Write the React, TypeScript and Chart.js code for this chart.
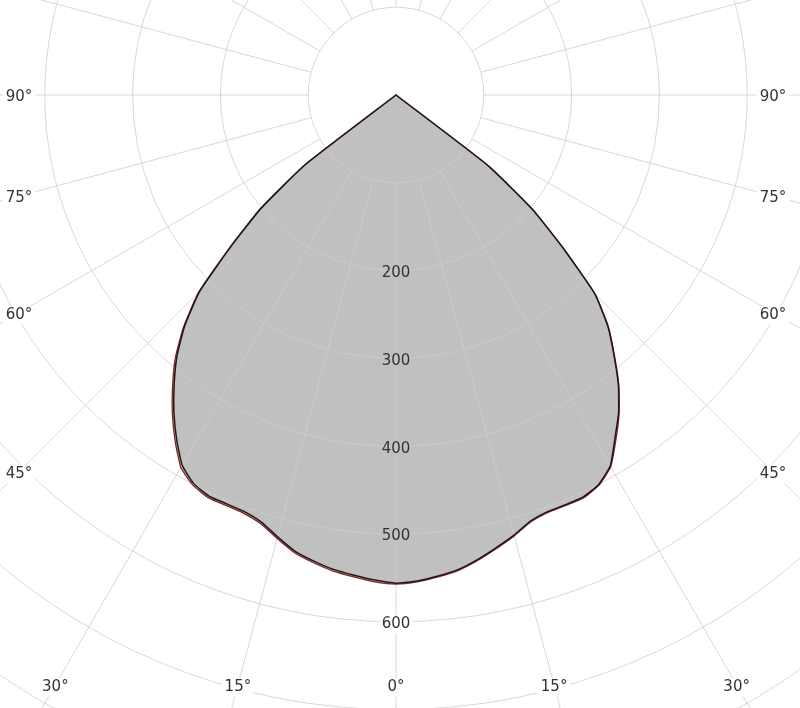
import React, { useEffect, useRef } from 'react';
import { Chart, registerables } from 'chart.js';

Chart.register(...registerables);

// Polar angle categories (degrees from nadir, clockwise on screen), 2.5° step
const ANGLE_STEP = 2.5;
const angleCategories: number[] = Array.from({ length: 360 / ANGLE_STEP }, (_, i) => i * ANGLE_STEP);

// Luminous intensity (cd/klm) for the half-planes, 0°..180° in 2.5° steps
const blackLeft = [
  556, 553, 549, 545, 539, 532, 521, 510, 505, 504, 504, 499, 487, 465, 441, 415, 388, 356, 316, 254, 200, 130,
  0, 0, 0, 0, 0, 0, 0, 0, 0, 0, 0, 0, 0, 0, 0, 0, 0, 0, 0, 0, 0, 0, 0, 0, 0, 0, 0, 0, 0, 0,
  0, 0, 0, 0, 0, 0, 0, 0, 0, 0, 0, 0, 0, 0, 0, 0, 0, 0, 0, 0, 0, 0, 0, 0, 0, 0, 0, 0, 0, 0, 0,
];
const blackRight = [
  556, 554, 550, 545, 537, 528, 519, 509, 505, 505, 505, 500, 488, 464, 442, 416, 386, 357, 320, 258, 203, 132,
  0, 0, 0, 0, 0, 0, 0, 0, 0, 0, 0, 0, 0, 0, 0, 0, 0, 0, 0, 0, 0, 0, 0, 0, 0, 0, 0, 0, 0, 0,
  0, 0, 0, 0, 0, 0, 0, 0, 0, 0, 0, 0, 0, 0, 0, 0, 0, 0, 0, 0, 0, 0, 0, 0, 0, 0, 0, 0, 0, 0, 0,
];
const redLeft = [
  557, 555, 551, 547, 541, 534, 523, 512, 507, 506, 506, 501, 490, 468, 444, 418, 391, 358, 318, 256, 202, 131,
  0, 0, 0, 0, 0, 0, 0, 0, 0, 0, 0, 0, 0, 0, 0, 0, 0, 0, 0, 0, 0, 0, 0, 0, 0, 0, 0, 0, 0, 0,
  0, 0, 0, 0, 0, 0, 0, 0, 0, 0, 0, 0, 0, 0, 0, 0, 0, 0, 0, 0, 0, 0, 0, 0, 0, 0, 0, 0, 0, 0, 0,
];
const redRight = [
  557, 555, 551, 546, 538, 529, 520, 510, 506, 506, 506, 501, 489, 466, 443, 417, 387, 358, 321, 259, 204, 133,
  0, 0, 0, 0, 0, 0, 0, 0, 0, 0, 0, 0, 0, 0, 0, 0, 0, 0, 0, 0, 0, 0, 0, 0, 0, 0, 0, 0, 0, 0,
  0, 0, 0, 0, 0, 0, 0, 0, 0, 0, 0, 0, 0, 0, 0, 0, 0, 0, 0, 0, 0, 0, 0, 0, 0, 0, 0, 0, 0, 0, 0,
];

const ringValues = [100, 200, 300, 400, 500, 600, 700, 800, 900, 1000];
const tickValues = [200, 300, 400, 500, 600];
const angleLabelValues = [0, 15, 30, 45, 60, 75, 90];
const ANGLE_LINE_STEP = 15;

const GRID_COLOR = 'rgba(205,205,205,0.78)';
const TEXT_COLOR = '#333333';
const FONT = '15px "DejaVu Sans", Verdana, sans-serif';
const LABEL_HALF_SPAN = 377;
const LABEL_BOTTOM = 590;
const TEXT_DY = 2.5;

function fullCircle(left: number[], right: number[]): number[] {
  const half = 180 / ANGLE_STEP;
  const n = angleCategories.length;
  return angleCategories.map((_, i) => (i <= half ? left[i] : right[n - i]));
}

const polarDecor = {
  id: 'polarDecor',
  beforeDatasetsDraw(chart: any) {
    const s = chart.scales.r;
    const ctx = chart.ctx;
    ctx.save();
    ctx.strokeStyle = GRID_COLOR;
    ctx.lineWidth = 1;
    for (const v of ringValues) {
      const d = s.getDistanceFromCenterForValue(v);
      ctx.beginPath();
      ctx.arc(s.xCenter, s.yCenter, d, 0, Math.PI * 2);
      ctx.stroke();
    }
    const inner = s.getDistanceFromCenterForValue(ringValues[0]);
    const outer = s.getDistanceFromCenterForValue(ringValues[ringValues.length - 1]);
    angleCategories.forEach((a, i) => {
      if (a % ANGLE_LINE_STEP !== 0) return;
      const p1 = s.getPointPosition(i, inner);
      const p2 = s.getPointPosition(i, outer);
      ctx.beginPath();
      ctx.moveTo(p1.x, p1.y);
      ctx.lineTo(p2.x, p2.y);
      ctx.stroke();
    });
    ctx.restore();
  },
  afterDatasetsDraw(chart: any) {
    const s = chart.scales.r;
    const ctx = chart.ctx;
    ctx.save();
    ctx.font = FONT;
    ctx.textAlign = 'center';
    ctx.textBaseline = 'middle';
    const nadirMax = Math.max(blackLeft[0], blackRight[0], redLeft[0], redRight[0]);
    for (const v of tickValues) {
      const d = s.getDistanceFromCenterForValue(v);
      const p = s.getPointPosition(0, d);
      const label = String(v);
      const w = ctx.measureText(label).width;
      if (v > nadirMax) {
        ctx.fillStyle = '#ffffff';
        ctx.fillRect(p.x - w / 2 - 2, p.y - 9 + TEXT_DY, w + 4, 18);
      }
      ctx.fillStyle = TEXT_COLOR;
      ctx.fillText(label, p.x, p.y + TEXT_DY);
    }
    const outer = s.getDistanceFromCenterForValue(ringValues[ringValues.length - 1]);
    angleCategories.forEach((a, i) => {
      if (a % ANGLE_LINE_STEP !== 0) return;
      const val = a <= 180 ? a : 360 - a;
      if (!angleLabelValues.includes(val)) return;
      const far = s.getPointPosition(i, outer);
      const ux = (far.x - s.xCenter) / outer;
      const uy = (far.y - s.yCenter) / outer;
      let t = Infinity;
      if (Math.abs(ux) > 1e-6) t = Math.min(t, LABEL_HALF_SPAN / Math.abs(ux));
      if (uy > 1e-6) t = Math.min(t, LABEL_BOTTOM / uy);
      const x = s.xCenter + ux * t;
      const y = s.yCenter + uy * t;
      const label = `${val}°`;
      const w = ctx.measureText(label).width;
      ctx.fillStyle = '#ffffff';
      ctx.fillRect(x - w / 2 - 3, y - 9 + TEXT_DY, w + 6, 18);
      ctx.fillStyle = TEXT_COLOR;
      ctx.fillText(label, x, y + TEXT_DY);
    });
    ctx.restore();
  },
};

export default function App() {
  const canvasRef = useRef<HTMLCanvasElement | null>(null);

  useEffect(() => {
    const canvas = canvasRef.current;
    if (!canvas) return;
    const chart = new Chart(canvas, {
      type: 'radar',
      data: {
        labels: angleCategories.map((a) => `${a}°`),
        datasets: [
          {
            label: 'C90-C270',
            data: fullCircle(blackLeft, blackRight),
            borderColor: '#1a1a1a',
            borderWidth: 1.5,
            fill: false,
            pointRadius: 0,
            tension: 0.15,
          },
          {
            label: 'C0-C180',
            data: fullCircle(redLeft, redRight),
            borderColor: '#8e1c24',
            borderWidth: 1.3,
            backgroundColor: '#c0c0c0',
            fill: true,
            pointRadius: 0,
            tension: 0.15,
          },
        ],
      },
      options: {
        responsive: false,
        animation: false,
        layout: { padding: 0 },
        plugins: {
          legend: { display: false },
          tooltip: { enabled: false },
          filler: { drawTime: 'beforeDatasetsDraw' },
        },
        scales: {
          r: {
            min: 0,
            max: 1000,
            startAngle: 180,
            ticks: { display: false, stepSize: 100 },
            grid: { display: false },
            angleLines: { display: false },
            pointLabels: { display: false },
            afterFit: (scale: any) => {
              scale.xCenter = 396;
              scale.yCenter = 95;
              scale.drawingArea = 878;
            },
          },
        },
      } as any,
      plugins: [polarDecor as any],
    });
    return () => chart.destroy();
  }, []);

  return (
    <div
      style={{
        position: 'absolute',
        left: 0,
        top: 0,
        width: 800,
        height: 708,
        overflow: 'hidden',
        background: '#ffffff',
      }}
    >
      <canvas ref={canvasRef} width={800} height={708} style={{ display: 'block' }} />
    </div>
  );
}
